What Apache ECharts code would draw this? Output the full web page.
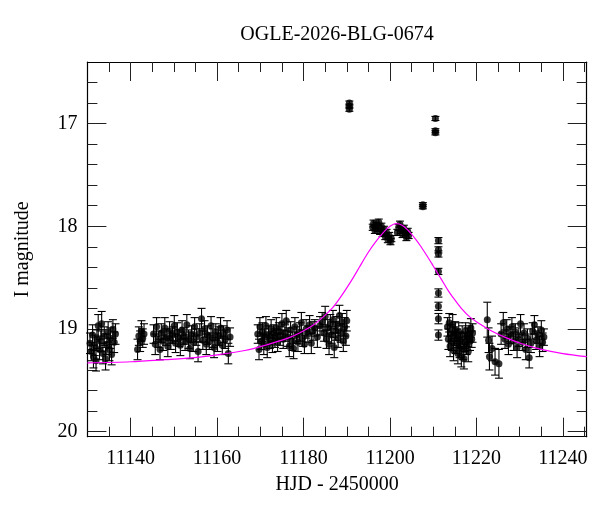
<!DOCTYPE html>
<html>
<head>
    <meta charset="utf-8">
    <title>OGLE-2026-BLG-0674</title>
    <script src="https://cdn.jsdelivr.net/npm/echarts@6/dist/echarts.min.js"></script>
    <style>
        html, body { margin: 0; padding: 0; background: #fff; }
        #container { width: 600px; height: 512px; }
    </style>
</head>
<body>
<div id="container"></div>
<script>
    // tick marks / labels
    var xMajorTicks = [11140, 11160, 11180, 11200, 11220, 11240];
    var xMinorTicks = [11135, 11145, 11150, 11155, 11165, 11170, 11175, 11185, 11190,
        11195, 11205, 11210, 11215, 11225, 11230, 11235, 11245];
    var yMajorTicks = [17, 18, 19, 20];
    var yMinorTicks = [16.6, 16.8, 17.2, 17.4, 17.6, 17.8, 18.2, 18.4, 18.6, 18.8,
        19.2, 19.4, 19.6, 19.8];

    // photometry, each row: [HJD-2450000, I mag, error]
    var season1 = [
        [11130.6, 19.14, 0.10], [11130.9, 19.22, 0.09], [11131.2, 19.06, 0.10], [11131.4, 19.27, 0.11],
        [11131.7, 19.16, 0.10], [11132.0, 19.31, 0.10], [11132.2, 19.10, 0.09], [11132.5, 18.97, 0.11],
        [11132.8, 19.20, 0.10], [11133.1, 19.12, 0.10], [11133.3, 18.95, 0.12], [11133.6, 19.24, 0.10],
        [11133.9, 19.07, 0.09], [11134.2, 19.29, 0.11], [11134.5, 19.15, 0.10], [11134.8, 19.03, 0.10],
        [11135.1, 19.20, 0.11], [11135.3, 19.09, 0.10], [11135.6, 19.25, 0.10], [11135.9, 19.00, 0.09],
        [11136.2, 19.13, 0.10], [11136.5, 19.05, 0.10]
    ];
    var season2 = [
        [11141.6, 19.20, 0.10], [11141.9, 19.07, 0.09], [11142.2, 19.12, 0.10], [11142.5, 19.02, 0.10],
        [11142.8, 19.09, 0.09], [11143.1, 19.05, 0.10]
    ];
    var season3 = [
        [11145.3, 19.05, 0.09], [11145.7, 19.15, 0.10], [11146.0, 18.98, 0.09], [11146.4, 19.10, 0.08],
        [11146.8, 19.20, 0.10], [11147.1, 19.04, 0.09], [11147.5, 19.12, 0.09], [11147.9, 18.99, 0.10],
        [11148.2, 19.08, 0.08], [11148.6, 19.17, 0.10], [11149.0, 19.02, 0.09], [11149.3, 19.11, 0.09],
        [11149.7, 19.06, 0.08], [11150.1, 18.97, 0.10], [11150.4, 19.14, 0.09], [11150.8, 19.03, 0.09],
        [11151.2, 19.09, 0.08], [11151.5, 19.16, 0.10], [11151.9, 19.01, 0.09], [11152.3, 19.07, 0.08],
        [11152.6, 19.12, 0.09], [11153.0, 18.96, 0.10], [11153.4, 19.10, 0.09], [11153.7, 19.19, 0.10],
        [11154.1, 19.05, 0.08], [11154.5, 19.13, 0.09], [11154.8, 18.98, 0.09], [11155.2, 19.08, 0.08],
        [11155.6, 19.22, 0.10], [11156.0, 19.04, 0.09], [11156.4, 18.90, 0.10], [11156.7, 19.11, 0.09],
        [11157.1, 19.00, 0.08], [11157.5, 19.15, 0.10], [11157.8, 19.06, 0.09], [11158.2, 19.12, 0.08],
        [11158.6, 18.97, 0.09], [11159.0, 19.09, 0.09], [11159.3, 19.18, 0.10], [11159.7, 19.03, 0.08],
        [11160.1, 19.13, 0.09], [11160.4, 19.07, 0.09], [11160.8, 18.99, 0.10], [11161.2, 19.16, 0.09],
        [11161.5, 19.05, 0.08], [11161.9, 19.10, 0.09], [11162.3, 19.01, 0.09], [11162.6, 19.24, 0.10],
        [11163.0, 19.08, 0.09]
    ];
    var season4 = [
        [11169.4, 19.05, 0.09], [11169.7, 19.20, 0.10], [11169.9, 18.98, 0.09], [11170.2, 19.12, 0.08],
        [11170.5, 19.03, 0.09], [11170.8, 19.15, 0.10], [11171.0, 19.08, 0.08], [11171.3, 18.97, 0.09],
        [11171.6, 19.18, 0.10], [11171.9, 19.06, 0.09], [11172.2, 19.11, 0.08], [11172.5, 19.00, 0.09],
        [11172.8, 19.14, 0.09], [11173.1, 19.04, 0.08], [11173.4, 19.09, 0.09], [11173.7, 18.99, 0.10],
        [11174.0, 19.13, 0.09], [11174.3, 19.02, 0.08], [11174.6, 19.07, 0.09], [11175.0, 18.95, 0.10],
        [11175.3, 19.10, 0.09], [11175.7, 19.04, 0.08], [11176.0, 18.92, 0.10], [11176.4, 19.08, 0.09],
        [11176.7, 19.17, 0.10], [11177.0, 19.01, 0.08], [11177.4, 19.12, 0.09], [11177.7, 19.19, 0.10],
        [11178.0, 18.98, 0.09], [11178.4, 19.06, 0.08], [11178.7, 19.13, 0.09], [11179.1, 19.03, 0.09],
        [11179.5, 18.94, 0.10], [11179.8, 19.09, 0.08], [11180.2, 19.15, 0.09], [11180.6, 19.00, 0.09],
        [11181.0, 19.05, 0.08], [11181.4, 18.96, 0.09], [11181.8, 19.14, 0.10], [11182.2, 19.02, 0.09],
        [11182.6, 18.99, 0.08], [11183.2, 19.08, 0.10], [11183.8, 18.97, 0.09], [11184.3, 18.93, 0.09],
        [11184.7, 19.04, 0.08], [11185.0, 18.88, 0.10], [11185.3, 19.10, 0.09], [11185.6, 18.99, 0.08],
        [11185.9, 19.15, 0.10], [11186.2, 18.95, 0.09], [11186.5, 19.06, 0.08], [11186.8, 18.91, 0.09],
        [11187.1, 19.18, 0.10], [11187.4, 19.02, 0.09], [11187.7, 18.96, 0.08], [11188.0, 19.09, 0.09],
        [11188.3, 18.87, 0.10], [11188.6, 19.04, 0.09], [11188.9, 18.93, 0.08], [11189.2, 19.12, 0.10],
        [11189.5, 18.98, 0.09], [11189.8, 19.07, 0.09], [11190.0, 18.92, 0.10]
    ];
    var spike = [
        [11190.6, 16.80, 0.02], [11190.6, 16.83, 0.02], [11190.6, 16.86, 0.02]
    ];
    var peak = [
        [11196.0, 18.01, 0.03], [11196.2, 17.97, 0.03], [11196.5, 18.04, 0.03], [11196.8, 17.99, 0.03],
        [11197.1, 18.02, 0.03], [11197.4, 17.96, 0.03], [11197.7, 18.05, 0.03], [11198.0, 18.00, 0.03],
        [11198.3, 18.07, 0.03], [11198.6, 18.03, 0.03], [11198.9, 18.10, 0.03], [11199.2, 18.06, 0.03],
        [11199.5, 18.13, 0.03], [11199.8, 18.09, 0.03], [11200.1, 18.15, 0.03], [11200.3, 18.12, 0.03],
        [11201.7, 18.06, 0.03], [11202.0, 18.01, 0.03], [11202.3, 17.98, 0.03], [11202.6, 18.04, 0.03],
        [11202.9, 18.08, 0.03], [11203.2, 18.02, 0.03], [11203.5, 18.06, 0.03], [11203.8, 18.11, 0.03],
        [11204.1, 18.05, 0.03], [11204.3, 18.09, 0.03]
    ];
    var caustic = [
        [11207.6, 17.79, 0.02], [11207.6, 17.81, 0.02],
        [11210.5, 16.95, 0.02], [11210.5, 17.07, 0.02], [11210.5, 17.09, 0.02],
        [11211.2, 18.14, 0.03], [11211.2, 18.23, 0.03], [11211.2, 18.27, 0.03], [11211.2, 18.44, 0.03],
        [11211.2, 18.65, 0.04], [11211.2, 18.78, 0.04], [11211.2, 18.90, 0.05], [11211.2, 19.06, 0.05]
    ];
    var season5 = [
        [11213.3, 18.98, 0.09], [11213.5, 19.10, 0.10], [11213.7, 18.94, 0.09], [11213.9, 19.17, 0.10],
        [11214.1, 19.04, 0.08], [11214.3, 19.12, 0.09], [11214.5, 18.96, 0.10], [11214.7, 19.21, 0.10],
        [11214.9, 19.07, 0.09], [11215.1, 19.01, 0.08], [11215.3, 19.14, 0.10], [11215.5, 19.09, 0.09],
        [11215.7, 19.24, 0.10], [11215.9, 19.03, 0.09], [11216.1, 19.18, 0.10], [11216.3, 19.11, 0.08],
        [11216.5, 19.27, 0.10], [11216.7, 19.06, 0.09], [11216.9, 19.20, 0.10], [11217.1, 19.29, 0.10],
        [11217.3, 19.13, 0.09], [11217.5, 19.02, 0.08], [11217.7, 19.16, 0.09], [11217.9, 19.08, 0.09],
        [11218.1, 19.22, 0.10], [11218.3, 19.05, 0.08], [11218.5, 19.12, 0.09], [11218.7, 18.99, 0.09],
        [11218.9, 19.10, 0.08], [11219.1, 19.04, 0.09]
    ];
    var season6 = [
        [11222.5, 18.91, 0.17], [11222.8, 19.11, 0.12], [11223.0, 19.27, 0.13], [11223.6, 19.19, 0.12],
        [11224.3, 19.32, 0.13], [11225.2, 19.34, 0.14], [11225.7, 19.05, 0.10], [11226.2, 18.94, 0.10],
        [11226.6, 19.10, 0.09], [11227.0, 19.00, 0.09], [11227.4, 19.15, 0.10], [11227.8, 19.06, 0.08],
        [11228.2, 18.98, 0.09], [11228.6, 19.12, 0.09], [11229.0, 19.03, 0.08], [11229.4, 19.18, 0.10],
        [11229.8, 19.08, 0.09], [11230.2, 18.95, 0.09], [11230.6, 19.13, 0.08], [11231.0, 19.04, 0.09],
        [11231.4, 19.20, 0.10], [11231.8, 19.09, 0.09], [11232.2, 19.28, 0.10], [11232.6, 19.14, 0.09],
        [11233.0, 19.02, 0.08], [11233.4, 18.96, 0.09], [11233.8, 19.11, 0.09], [11234.2, 19.06, 0.08],
        [11234.6, 19.17, 0.10], [11235.0, 19.01, 0.09], [11235.3, 19.13, 0.09], [11235.6, 19.08, 0.08]
    ];

    // model light curve
    var modelHjd = [11130.0, 11140.0, 11148.0, 11154.8, 11160.5, 11166.4, 11171.5, 11176.4, 11179.3,
        11182.0, 11184.5, 11186.8, 11188.4, 11190.0, 11191.5, 11192.9, 11194.8, 11196.8, 11198.7,
        11200.0, 11201.4, 11202.8, 11204.2, 11206.0, 11207.1, 11208.5, 11209.9, 11211.2, 11212.5,
        11213.5, 11214.5, 11216.5, 11218.5, 11220.7, 11223.5, 11226.8, 11230.5, 11234.5, 11240.0,
        11245.5];
    var modelMag = [19.33, 19.32, 19.30, 19.28, 19.25, 19.21, 19.155, 19.09, 19.035,
        18.97, 18.885, 18.79, 18.70, 18.60, 18.50, 18.40, 18.265, 18.145, 18.05,
        18.00, 17.975, 17.99, 18.04, 18.13, 18.195, 18.285, 18.38, 18.47, 18.56,
        18.63, 18.69, 18.80, 18.885, 18.95, 19.02, 19.085, 19.145, 19.195, 19.24,
        19.27];

    var obs = [].concat(season1, season2, season3, season4, spike, peak, caustic, season5, season6);

    var dom = document.getElementById("container");
    var myChart = echarts.init(dom);

    var serif = "'Liberation Serif', 'DejaVu Serif', serif";
    var X_MIN = 11130, X_MAX = 11245.5, Y_MIN = 16.4, Y_MAX = 20.05;

    function plainNumber(v) {
        return String(v);
    }

    function xAxisDef(pos, ticks, len, isMain) {
        return {
            type: 'value', position: pos, min: X_MIN, max: X_MAX,
            name: (isMain && pos === 'bottom') ? 'HJD - 2450000' : '',
            nameLocation: 'middle', nameGap: 38,
            nameTextStyle: {fontFamily: serif, fontSize: 20, color: '#000'},
            axisLine: {show: isMain, lineStyle: {color: '#000', width: 1.2}},
            axisTick: {show: true, inside: true, length: len, customValues: ticks,
                lineStyle: {color: '#222', width: 1}},
            axisLabel: {show: isMain && pos === 'bottom', customValues: xMajorTicks, margin: 12,
                formatter: plainNumber, fontFamily: serif, fontSize: 20, color: '#000'},
            splitLine: {show: false}
        };
    }

    function yAxisDef(pos, ticks, len, isMain) {
        return {
            type: 'value', position: pos, min: Y_MIN, max: Y_MAX, inverse: true,
            name: (isMain && pos === 'left') ? 'I magnitude' : '',
            nameLocation: 'middle', nameGap: 55,
            nameTextStyle: {fontFamily: serif, fontSize: 20, color: '#000'},
            axisLine: {show: isMain, lineStyle: {color: '#000', width: 1.2}},
            axisTick: {show: true, inside: true, length: len, customValues: ticks,
                lineStyle: {color: '#222', width: 1}},
            axisLabel: {show: isMain && pos === 'left', customValues: yMajorTicks, margin: 10,
                formatter: plainNumber, fontFamily: serif, fontSize: 20, color: '#000'},
            splitLine: {show: false}
        };
    }

    // vertical error bar with small caps
    function renderErrorBar(params, api) {
        var t = api.value(0);
        var p1 = api.coord([t, api.value(1)]);
        var p2 = api.coord([t, api.value(2)]);
        var w = 4;
        var style = {stroke: '#000', lineWidth: 1.1};
        return {
            type: 'group',
            children: [
                {type: 'line', shape: {x1: p1[0], y1: p1[1], x2: p2[0], y2: p2[1]}, style: style},
                {type: 'line', shape: {x1: p1[0] - w, y1: p1[1], x2: p1[0] + w, y2: p1[1]}, style: style},
                {type: 'line', shape: {x1: p2[0] - w, y1: p2[1], x2: p2[0] + w, y2: p2[1]}, style: style}
            ]
        };
    }

    var option = {
        animation: false,
        backgroundColor: '#fff',
        graphic: [{
            type: 'text', x: 337, y: 35,
            style: {text: 'OGLE-2026-BLG-0674', font: '20px ' + serif, fill: '#000',
                align: 'center', verticalAlign: 'middle'}
        }],
        grid: {left: 87.4, right: 13.3, top: 62, bottom: 75.3, containLabel: false, outerBoundsMode: 'none'},
        xAxis: [
            xAxisDef('bottom', xMajorTicks, 19, true),
            xAxisDef('bottom', xMinorTicks, 10, false),
            xAxisDef('top', xMajorTicks, 19, true),
            xAxisDef('top', xMinorTicks, 10, false)
        ],
        yAxis: [
            yAxisDef('left', yMajorTicks, 19, true),
            yAxisDef('left', yMinorTicks, 10, false),
            yAxisDef('right', yMajorTicks, 19, true),
            yAxisDef('right', yMinorTicks, 10, false)
        ],
        series: [
            {
                type: 'custom',
                xAxisIndex: 0, yAxisIndex: 0,
                renderItem: renderErrorBar,
                data: obs.map(function (d) { return [d[0], d[1] - d[2], d[1] + d[2]]; }),
                z: 2
            },
            {
                type: 'scatter',
                xAxisIndex: 0, yAxisIndex: 0,
                symbol: 'circle', symbolSize: 7,
                itemStyle: {color: '#000'},
                data: obs.map(function (d) { return [d[0], d[1]]; }),
                z: 3
            },
            {
                type: 'line',
                xAxisIndex: 0, yAxisIndex: 0,
                showSymbol: false, smooth: 0.3,
                lineStyle: {color: '#ff00ff', width: 1.2},
                data: modelHjd.map(function (t, i) { return [t, modelMag[i]]; }),
                z: 4
            }
        ]
    };

    myChart.setOption(option, true);

    window.onresize = function () {
        myChart.resize();
    };
</script>
</body>
</html>
